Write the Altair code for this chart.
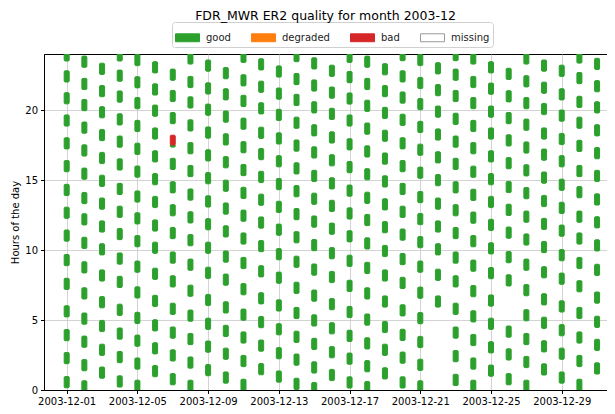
import altair as alt
import pandas as pd

# ---- data (centre hour of each "good" segment, per day) ----
d01 = [23.9, 22.4, 20.84, 19.25, 17.62, 15.99, 14.29, 12.66, 11.03, 9.28, 7.58, 5.62, 3.92, 2.28, 0.56]
d02 = [23.45, 21.86, 20.35, 18.74, 17.11, 15.45, 13.71, 12.19, 10.51, 8.76, 6.9, 5.1, 3.45, 1.77, 0.26]
d03 = [22.94, 21.35, 19.84, 18.21, 16.57, 14.94, 13.31, 11.68, 10.05, 8.18, 6.27, 4.57, 2.87, 1.24]
d04 = [23.9, 22.45, 20.96, 19.33, 17.74, 16.11, 14.36, 12.73, 11.14, 9.39, 7.72, 5.73, 4.03, 2.35, 0.61]
d05 = [23.57, 21.98, 20.49, 18.86, 17.23, 15.6, 13.82, 12.26, 10.63, 8.81, 6.97, 5.15, 3.52, 1.89, 0.3]
d06 = [23.05, 21.47, 19.95, 18.32, 16.69, 15.06, 13.43, 11.75, 10.16, 8.3, 6.36, 4.62, 2.98, 1.35]
d07 = [22.52, 21.0, 19.42, 16.15, 14.48, 12.84, 11.21, 9.46, 7.76, 5.8, 4.1, 2.47, 0.77]
d08 = [23.68, 22.0, 20.54, 18.9, 17.27, 15.64, 13.96, 12.33, 10.7, 8.95, 7.09, 5.31, 3.64, 1.96, 0.3]
d09 = [23.17, 21.54, 20.02, 18.39, 16.76, 15.13, 13.47, 11.84, 10.16, 8.37, 6.43, 4.73, 3.1, 1.42]
d10 = [22.63, 21.12, 19.53, 17.9, 16.27, 14.59, 12.96, 11.33, 9.53, 7.88, 5.9, 4.22, 2.59, 0.89]
d11 = [23.8, 22.12, 20.65, 19.02, 17.34, 15.71, 14.08, 12.45, 10.82, 9.07, 7.2, 5.38, 3.75, 2.07, 0.37]
d12 = [23.26, 21.66, 20.12, 18.37, 16.85, 15.22, 13.59, 11.96, 10.28, 8.48, 6.55, 4.85, 3.17, 1.49]
d13 = [22.75, 21.17, 19.65, 17.97, 16.34, 14.71, 13.08, 11.45, 9.7, 8.02, 6.04, 4.34, 2.63, 0.96]
d14 = [23.85, 22.21, 20.72, 19.09, 17.46, 15.83, 14.2, 12.56, 10.91, 9.16, 7.3, 5.5, 3.8, 2.17, 0.44]
d15 = [23.33, 21.75, 20.19, 18.55, 16.97, 15.29, 13.66, 12.03, 10.35, 8.6, 6.74, 4.97, 3.29, 1.61, 0.14]
d16 = [22.8, 21.24, 19.72, 18.04, 16.41, 14.76, 13.15, 11.52, 9.77, 8.07, 6.13, 4.41, 2.7, 1.07]
d17 = [23.8, 22.35, 20.82, 19.25, 17.55, 15.92, 14.24, 12.61, 10.98, 9.23, 7.44, 5.57, 3.87, 2.24, 0.54]
d18 = [23.45, 21.86, 20.3, 18.67, 17.04, 15.41, 13.73, 12.14, 10.47, 8.72, 6.9, 5.03, 3.33, 1.7, 0.21]
d19 = [22.91, 21.35, 19.79, 18.16, 16.53, 14.9, 13.26, 11.63, 9.93, 8.18, 6.32, 4.5, 2.87, 1.19]
d20 = [23.92, 22.4, 20.89, 19.3, 17.62, 15.99, 14.36, 12.73, 11.1, 9.35, 7.65, 5.69, 3.94, 2.31, 0.54]
d21 = [23.57, 21.93, 20.42, 18.79, 17.16, 15.52, 13.78, 12.21, 10.56, 8.81, 6.95, 5.13, 3.43, 1.8, 0.26]
d22 = [22.98, 21.42, 19.88, 18.25, 16.62, 14.99, 13.31, 11.68, 10.05, 8.23, 6.32]
d23 = [23.92, 22.52, 21.0, 19.37, 17.74, 16.15, 14.48, 12.84, 11.21, 9.46, 7.76, 5.8, 4.1, 2.42, 0.72]
d24 = [23.68, 22.0, 20.49, 18.86, 17.27, 15.59, 13.94, 12.31, 10.63, 8.88, 7.06, 5.26, 3.57, 1.89, 0.3]
d25 = [23.05, 21.52, 19.88, 18.32, 16.69, 15.06, 13.43, 11.79, 10.12, 8.35, 6.39, 4.73, 3.05, 1.38]
d26 = [22.58, 20.98, 19.42, 17.83, 16.2, 14.5, 12.87, 11.24, 9.49, 7.83, 4.17, 2.54, 0.77]
d27 = [23.68, 22.05, 20.49, 18.95, 17.32, 15.69, 14.06, 12.38, 10.75, 8.95, 7.13, 5.34, 3.64, 2.0, 0.3]
d28 = [23.17, 21.59, 20.07, 18.32, 16.81, 15.17, 13.5, 11.86, 10.21, 8.41, 6.48, 4.8, 3.12, 1.47]
d29 = [22.8, 21.12, 19.6, 17.93, 16.34, 14.66, 13.01, 11.38, 9.63, 7.95, 5.97, 4.27, 2.59, 0.89]
d30 = [23.75, 22.28, 20.58, 19.09, 17.44, 15.64, 14.13, 12.38, 10.82, 9.07, 7.41, 5.5, 3.75, 2.07, 0.37]
d31 = [23.29, 21.7, 20.19, 18.55, 16.92, 15.29, 13.61, 11.98, 10.33, 8.58, 6.6, 4.87, 3.22, 1.54]

day_lists = [d01, d02, d03, d04, d05, d06, d07, d08, d09, d10, d11, d12, d13, d14, d15, d16,
             d17, d18, d19, d20, d21, d22, d23, d24, d25, d26, d27, d28, d29, d30, d31]
segment_half = 0.4  # half length of a good segment (hours)

# partial good segment and the single bad segment (day, start hour, end hour)
good_partial = [("2003-12-07", 17.35, 17.55)]
bad_segments = [("2003-12-07", 17.5, 18.2)]

categories = ["good", "degraded", "bad", "missing"]
fill_colors = ["#2ca02c", "#ff7f0e", "#d62728", "#ffffff"]
edge_colors = ["#2ca02c", "#ff7f0e", "#d62728", "#999999"]
tick_days = [1, 5, 9, 13, 17, 21, 25, 29]

rows = []
for i, hours in enumerate(day_lists):
    day = f"2003-12-{i + 1:02d}T00:00:00"
    for h in hours:
        rows.append({"date": day, "start": h - segment_half, "end": h + segment_half, "quality": "good"})
for d, s, e in good_partial:
    rows.append({"date": d + "T00:00:00", "start": s, "end": e, "quality": "good"})
for d, s, e in bad_segments:
    rows.append({"date": d + "T00:00:00", "start": s, "end": e, "quality": "bad"})
df = pd.DataFrame(rows)

legend = alt.Legend(
    title=None, orient="none", legendX=128, legendY=-32, direction="horizontal", columns=4,
    symbolType="M-1,-0.33H1V0.33H-1Z", symbolSize=576, symbolStrokeWidth=1,
    labelFontSize=10, labelColor="#222", labelOffset=6, columnPadding=18,
    strokeColor="#d0d0d0", fillColor="white", padding=3, cornerRadius=3,
)

chart = alt.Chart(df).mark_bar(size=5, strokeWidth=1, cornerRadius=1, clip=True).encode(
    x=alt.X("date:T",
            scale=alt.Scale(domain=[alt.DateTime(year=2003, month=11, date=30),
                                    alt.DateTime(year=2003, month=12, date=31, hours=6, minutes=40)]),
            axis=alt.Axis(values=[alt.DateTime(year=2003, month=12, date=d) for d in tick_days],
                          format="%Y-%m-%d", title=None, labelAngle=0, grid=True)),
    y=alt.Y("start:Q", scale=alt.Scale(domain=[0, 24], nice=False),
            axis=alt.Axis(values=[0, 5, 10, 15, 20], title="Hours of the day", grid=True,
                          titlePadding=4)),
    y2="end:Q",
    color=alt.Color("quality:N", scale=alt.Scale(domain=categories, range=fill_colors), legend=legend),
    stroke=alt.Stroke("quality:N", scale=alt.Scale(domain=categories, range=edge_colors), legend=legend),
).properties(
    width=563, height=336,
    title=alt.TitleParams("FDR_MWR ER2 quality for month 2003-12", fontSize=12.5,
                          fontWeight="normal", color="black", anchor="middle", offset=5, dy=6),
    autosize=alt.AutoSizeParams(type="none"),
    padding={"left": 36, "top": 46, "right": 0, "bottom": 16},
).configure(
    font="DejaVu Sans",
).configure_axis(
    labelFontSize=10, titleFontSize=10, titleFontWeight="normal", labelColor="black",
    titleColor="black", tickColor="black", domainColor="black", tickSize=3.5,
    labelPadding=3, gridColor="#c8c8c8", gridWidth=0.8, domainWidth=1,
).configure_view(
    stroke="black", strokeWidth=1,
)

chart.save("out.html", embed_options={"renderer": "svg", "actions": False})
